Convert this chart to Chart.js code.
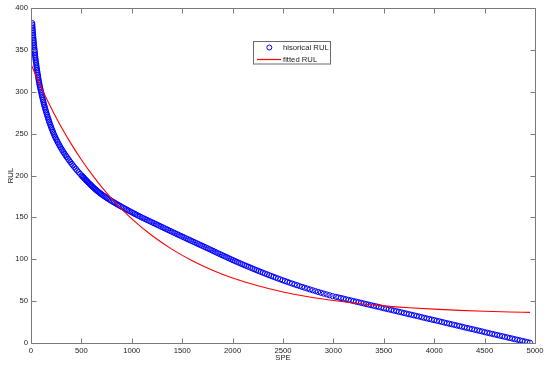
<!DOCTYPE html>
<html><head><meta charset="utf-8">
<script src="https://cdn.jsdelivr.net/npm/chart.js@4/dist/chart.umd.min.js"></script>
<style>html,body{margin:0;padding:0;background:#fff}#c{display:block}</style>
</head><body>
<canvas id="c" width="550" height="368"></canvas>
<script>
const xTicks = [0,500,1000,1500,2000,2500,3000,3500,4000,4500,5000];
const yTicks = [0,50,100,150,200,250,300,350,400];

const histRUL = [382,380,378,376,374,372,370,368,366,364,362,360,358,356,354,352,350,348,346,344,342,340,338,336,334,332,330,328,326,324,322,320,318,316,314,312,310,308,306,304,302,300,298,296,294,292,290,288,286,284,282,280,278,276,274,272,270,268,266,264,262,260,258,256,254,252,250,248,246,244,242,240,238,236,234,232,230,228,226,224,222,220,218,216,214,212,210,208,206,204,202,200,
199,198,197,196,195,194,193,192,191,190,189,188,187,186,185,
184,183,182,181,180,179,178,177,176,175,174,173,172,171,170,169,168,
167,166,165,164,163,162,161,160,159,158,157,156,155,154,153,152,151,150,
149,148,147,146,145,144,143,142,141,140,139,138,137,136,135,134,133,132,131,130,129,128,
127,126,125,124,123,122,121,120,119,118,117,116,115,114,113,112,111,110,109,108,107,106,105,104,103,102,101,100,99,
98,97,96,95,94,93,92,91,90,89,88,87,86,85,84,83,82,81,80,79,78,77,76,75,
74,73,72,71,70,69,68,67,66,65,64,63,62,61,60,59,58,57,56,
55.1,54.4,53.7,53.0,52.2,51.5,50.8,50.1,49.4,48.7,48.0,47.3,46.5,45.8,45.1,44.4,43.7,43.0,42.3,41.5,
40.8,40.1,39.4,38.7,38.0,37.3,36.6,35.8,35.1,34.4,33.7,33.0,32.3,31.6,30.9,30.1,29.4,28.7,28.0,27.3,
26.6,25.9,25.2,24.4,23.7,23.0,22.3,21.6,20.9,20.2,19.5,18.7,18.0,17.3,16.6,15.9,15.2,14.5,13.8,13.0,
12.3,11.6,10.9,10.2,9.5,8.8,8.1,7.4,6.7,6.0,5.3,4.6,3.9,3.2,2.5,1.8,1.1,0.4];

const histSPE = [12,13,14,15,17,18,20,21,22,24,25,27,28,30,31,33,35,37,39,40,42,44,46,48,51,53,55,58,60,63,65,68,71,73,76,79,82,85,89,92,96,100,104,107,111,115,119,123,127,131,136,140,145,150,155,160,165,170,176,181,187,193,199,205,212,218,225,
232,240,247,256,264,273,282,291,301,311,322,332,344,355,367,379,391,404,417,430,444,458,472,487,502,
510,517,525,533,541,549,557,565,573,582,590,599,607,616,625,
634,644,653,663,674,684,695,706,718,730,742,754,767,780,793,807,821,
835,850,864,879,893,908,923,939,954,969,985,1001,1017,1033,1049,1065,1081,1098,
1115,1133,1150,1168,1185,1203,1220,1238,1255,1273,1290,1308,1325,1343,1360,1378,1395,1413,1430,1448,1465,1483,
1501,1519,1537,1555,1573,1591,1609,1627,1645,1663,1681,1699,1717,1735,1753,1771,1789,1806,1823,1840,1858,1876,1894,1912,1930,1948,1966,1984,2002,
2021,2040,2059,2078,2097,2117,2137,2157,2177,2197,2217,2237,2257,2278,2299,2320,2341,2362,2384,2406,2428,2450,2473,2496,
2519,2542,2566,2590,2614,2639,2664,2689,2715,2741,2767,2794,2821,2848,2876,2904,2933,2962,2992,
3025,3050,3075,3100,3125,3150,3175,3200,3225,3250,3275,3300,3325,3350,3375,3400,3425,3450,3475,3500,
3525,3550,3575,3600,3625,3650,3675,3700,3725,3750,3775,3800,3825,3850,3875,3900,3925,3950,3975,4000,
4025,4050,4075,4100,4125,4150,4175,4200,4225,4250,4275,4300,4325,4350,4375,4400,4425,4450,4475,4500,
4525,4550,4575,4600,4625,4650,4675,4700,4725,4750,4775,4800,4825,4850,4875,4900,4925,4950];

const fitSPE = [0,50,100,200,300,400,500,600,700,800,900,1000,1200,1400,1600,1800,2000,2250,2500,2750,3000,3250,3500,3750,4000,4250,4500,4750,4950];
const fitRUL = [333,319,305.5,280.7,258,237.5,218.8,201.9,186.5,172.5,159.8,148.2,128.3,111.8,98.2,86.9,77.6,68.3,61,55.2,50.7,47.1,44.3,42.1,40.4,39,37.9,37.1,36.6];

const seriesLabels = ['hisorical RUL', 'fitted RUL'];

const FONT = {family: '"Liberation Sans", Arial, sans-serif', size: 7.7};
const TXT = '#222';
const AXC = '#7a7a7a';

const boxPlugin = {
  id: 'matlabBox',
  afterDatasetsDraw(chart) {
    const {ctx, chartArea: a, scales: {x, y}} = chart;
    ctx.save();
    ctx.strokeStyle = AXC;
    ctx.lineWidth = 1;
    ctx.beginPath();
    const L = Math.round(a.left) + 0.5, R = Math.round(a.right) + 0.5;
    const T = Math.round(a.top) + 0.5, B = Math.round(a.bottom) + 0.5;
    ctx.rect(L, T, R - L, B - T);
    const tl = 5;
    xTicks.forEach(v => {
      const px = Math.round(x.getPixelForValue(v)) + 0.5;
      ctx.moveTo(px, B); ctx.lineTo(px, B - tl);
      ctx.moveTo(px, T); ctx.lineTo(px, T + tl);
    });
    yTicks.forEach(v => {
      const py = Math.round(y.getPixelForValue(v)) + 0.5;
      ctx.moveTo(L, py); ctx.lineTo(L + tl, py);
      ctx.moveTo(R, py); ctx.lineTo(R - tl, py);
    });
    ctx.stroke();

    // legend
    const lx = 253.5, ly = 41.5, lw = 77, lh = 22.5;
    ctx.fillStyle = '#fff';
    ctx.fillRect(lx, ly, lw, lh);
    ctx.strokeStyle = '#6a6a6a';
    ctx.strokeRect(lx, ly, lw, lh);
    ctx.font = FONT.size + 'px ' + FONT.family;
    ctx.fillStyle = TXT;
    ctx.textBaseline = 'middle';
    ctx.textAlign = 'left';
    const r1 = 47.5, r2 = 59.5;
    ctx.beginPath();
    ctx.strokeStyle = '#0000ff';
    ctx.lineWidth = 1;
    ctx.arc(269.3, r1, 2.5, 0, Math.PI * 2);
    ctx.stroke();
    ctx.beginPath();
    ctx.strokeStyle = '#ff0000';
    ctx.lineWidth = 1.2;
    ctx.moveTo(257, r2); ctx.lineTo(281, r2);
    ctx.stroke();
    ctx.fillText(chart.data.datasets[0].label, 283, r1);
    ctx.fillText(chart.data.datasets[1].label, 283, r2);
    ctx.restore();
  }
};

new Chart(document.getElementById('c'), {
  type: 'scatter',
  data: {
    datasets: [
      {
        label: seriesLabels[0],
        data: histSPE.map((v, i) => ({x: v, y: histRUL[i]})),
        showLine: false,
        pointStyle: 'circle',
        pointRadius: 2.6,
        pointBorderWidth: 1,
        pointBorderColor: '#0000ff',
        pointBackgroundColor: 'rgba(0,0,0,0)',
        order: 2
      },
      {
        label: seriesLabels[1],
        data: fitSPE.map((v, i) => ({x: v, y: fitRUL[i]})),
        showLine: true,
        borderColor: '#ff0000',
        borderWidth: 1.1,
        pointRadius: 0,
        cubicInterpolationMode: 'monotone',
        fill: false,
        order: 1
      }
    ]
  },
  options: {
    responsive: false,
    animation: false,
    devicePixelRatio: 1,
    layout: {padding: {left: 0, right: 15, top: 8, bottom: 0}},
    plugins: {legend: {display: false}, tooltip: {enabled: false}},
    scales: {
      x: {
        type: 'linear', min: 0, max: 5000,
        afterBuildTicks: s => { s.ticks = xTicks.map(v => ({value: v})); },
        afterFit: s => { s.height = 25; },
        grid: {display: false, drawTicks: false},
        border: {display: false},
        ticks: {font: FONT, color: TXT, padding: 3, maxRotation: 0, autoSkip: false, callback: v => String(v)},
        title: {display: true, text: 'SPE', font: FONT, color: TXT, padding: {top: 0, bottom: 5}}
      },
      y: {
        type: 'linear', min: 0, max: 400,
        afterBuildTicks: s => { s.ticks = yTicks.map(v => ({value: v})); },
        afterFit: s => { s.width = 31; },
        grid: {display: false, drawTicks: false},
        border: {display: false},
        ticks: {font: FONT, color: TXT, padding: 3, autoSkip: false, callback: v => String(v)},
        title: {display: true, text: 'RUL', font: FONT, color: TXT, padding: {top: 6, bottom: 0}}
      }
    }
  },
  plugins: [boxPlugin]
});
</script>
</body></html>
